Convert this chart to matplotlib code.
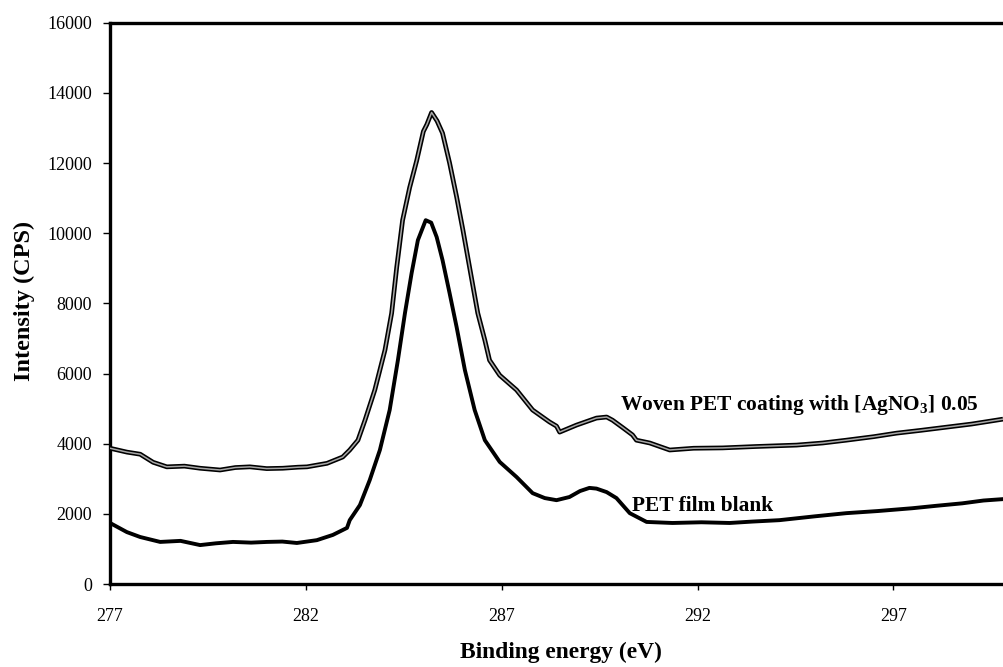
import matplotlib
matplotlib.use("Agg")
import matplotlib.pyplot as plt

# Woven PET coating with [AgNO3] 0.05
woven_x = [277.00, 277.43, 277.77, 278.10, 278.45, 278.90, 279.30, 279.81, 280.20, 280.57,
           281.00, 281.41, 281.80, 282.03, 282.54, 282.94, 283.12, 283.33, 283.51, 283.76,
           284.02, 284.19, 284.32, 284.47, 284.65, 284.83, 285.00, 285.09, 285.21, 285.35,
           285.49, 285.67, 285.85, 286.01, 286.18, 286.39, 286.57, 286.69, 286.95, 287.38,
           287.79, 288.22, 288.40, 288.48, 288.91, 289.42, 289.68, 289.83, 290.10, 290.34,
           290.44, 290.78, 291.29, 291.90, 292.64, 293.50, 294.53, 295.20, 295.80, 296.50,
           297.08, 297.70, 298.35, 299.00, 299.63, 299.80]
woven_y = [3870, 3760, 3700, 3470, 3340, 3360, 3300, 3250, 3320, 3340,
           3290, 3300, 3330, 3340, 3440, 3620, 3820, 4100, 4670, 5530,
           6670, 7720, 9030, 10370, 11300, 12070, 12900, 13100, 13440, 13200,
           12850, 12000, 11030, 10090, 9030, 7720, 6950, 6380, 5950, 5530,
           4960, 4620, 4500, 4330, 4530, 4730, 4760, 4670, 4450, 4250,
           4100, 4020, 3820, 3870, 3880, 3920, 3960, 4020, 4100, 4200,
           4300, 4380, 4470, 4560, 4670, 4700]

# PET film blank
blank_x = [277.00, 277.43, 277.77, 278.28, 278.80, 279.30, 279.70, 280.14, 280.60, 281.01,
           281.40, 281.77, 282.28, 282.69, 283.05, 283.12, 283.38, 283.63, 283.89, 284.14,
           284.35, 284.53, 284.70, 284.86, 285.06, 285.20, 285.34, 285.49, 285.67, 285.85,
           286.06, 286.31, 286.57, 286.95, 287.38, 287.79, 288.10, 288.40, 288.73, 289.00,
           289.24, 289.42, 289.68, 289.93, 290.27, 290.70, 291.36, 292.10, 292.82, 293.40,
           294.09, 295.00, 295.80, 296.60, 297.48, 298.10, 298.76, 299.30, 299.80]
blank_y = [1740, 1480, 1340, 1200, 1230, 1110, 1160, 1200, 1180, 1200,
           1210, 1170, 1250, 1400, 1600, 1820, 2250, 2960, 3820, 4960,
           6380, 7720, 8860, 9800, 10370, 10300, 9890, 9230, 8290, 7320,
           6100, 4960, 4100, 3480, 3050, 2590, 2450, 2390, 2480, 2650,
           2740, 2720, 2620, 2450, 2020, 1770, 1740, 1760, 1740, 1780,
           1820, 1930, 2020, 2080, 2160, 2230, 2300, 2380, 2420]

x_ticks = [277, 282, 287, 292, 297]
y_ticks = [0, 2000, 4000, 6000, 8000, 10000, 12000, 14000, 16000]

woven_label = "Woven PET coating with [AgNO$_\\mathbf{3}$] 0.05"
blank_label = "PET film blank"

plt.rcParams['font.family'] = ['Liberation Serif', 'DejaVu Serif']
plt.rcParams['mathtext.fontset'] = 'custom'
plt.rcParams['mathtext.rm'] = 'Liberation Serif'
plt.rcParams['mathtext.bf'] = 'Liberation Serif:bold'

fig = plt.figure(figsize=(10.04, 6.67), dpi=100)
ax = fig.add_axes([0.1096, 0.1244, 0.8894, 0.8416])

ax.plot(woven_x, woven_y, color='black', lw=3.4, solid_capstyle='butt', zorder=3)
ax.plot(woven_x, woven_y, color='#a8a8a8', lw=1.1, zorder=4)
ax.plot(blank_x, blank_y, color='black', lw=2.8, zorder=3)

ax.set_xlim(277, 299.8)
ax.set_ylim(0, 16000)
ax.set_xticks(x_ticks)
ax.set_yticks(y_ticks)
ax.set_xticklabels([str(v) for v in x_ticks], fontsize=13)
ax.set_yticklabels([str(v) for v in y_ticks], fontsize=13)
ax.tick_params(axis='y', direction='out', length=5, width=1, pad=8)
ax.tick_params(axis='x', direction='out', length=4, width=1, pad=13)

for s in ['left', 'bottom', 'top']:
    ax.spines[s].set_linewidth(2.4)
ax.spines['right'].set_visible(False)

ax.text(290.01, 5100, woven_label, fontsize=15.4, fontweight='bold', va='center', ha='left')
ax.text(290.34, 2220, blank_label, fontsize=15.4, fontweight='bold', va='center', ha='left')

fig.text(561/1004, 1 - 652/667, "Binding energy (eV)", fontsize=16.9, fontweight='bold',
         ha='center', va='center')
fig.text(24/1004, 1 - 301/667, "Intensity (CPS)", fontsize=17.5, fontweight='bold',
         ha='center', va='center', rotation=90)

fig.savefig("out.png", dpi=100)
